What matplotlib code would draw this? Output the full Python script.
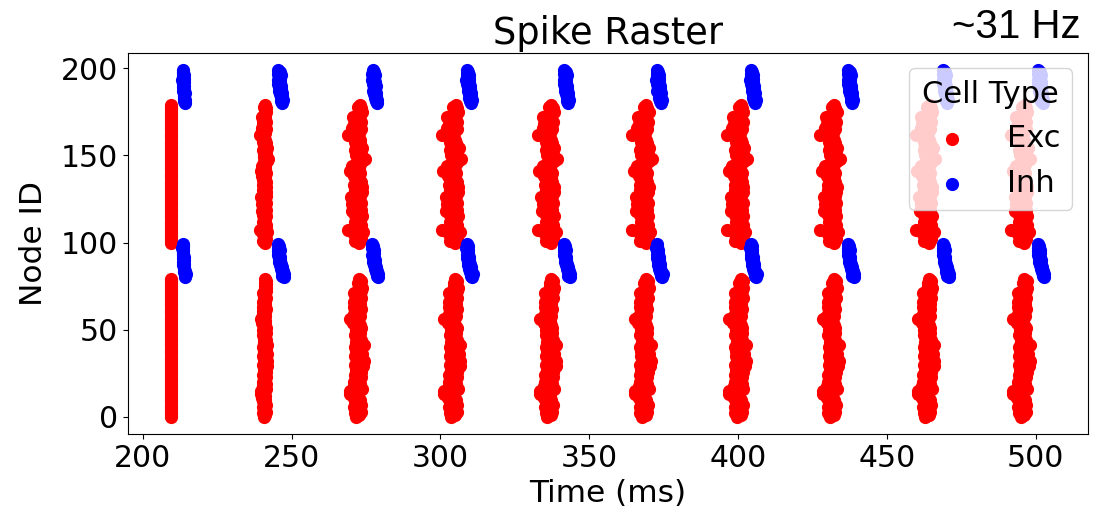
import numpy as np
import matplotlib
matplotlib.use("Agg")
import matplotlib.pyplot as plt

# burst centres (ms)
exc_burst_ms = [209.6, 240.8, 272.1, 304.1, 336.3, 368.1, 400.0, 431.3, 463.3, 495.3]
inh_burst_ms = [213.6, 245.9, 277.6, 309.3, 342.0, 373.1, 404.7, 437.4, 469.3, 501.3]
# how widely each burst is smeared out (0 = all cells fire together)
exc_spread = [0.0, 0.4, 0.85, 1.0, 1.0, 1.0, 1.0, 1.0, 1.0, 1.0]
inh_spread = [0.5, 1.0, 1.0, 1.0, 1.0, 1.0, 1.0, 1.0, 1.0, 1.0]

# per-cell lag (ms) relative to the burst centre
exc_lag_low = [  # nodes 0-79
    -0.4, 0.8, -1.0, 1.3, -0.2, 0.6, -1.2, 1.5, 0.1, -0.8,
    1.0, -1.5, 0.4, -2.9, -1.0, -2.9, 1.8, 0.2, -1.4, 1.2,
    -1.2, 0.6, -0.5, 1.4, -1.1, 0.3, 1.6, -0.6, 0.9, 2.4,
    -0.9, 0.5, 2.6, -0.3, 1.1, -0.8, 2.0, 0.2, -0.6, 1.5,
    -0.9, 2.6, 0.4, -0.4, 1.4, -0.2, 0.8, -1.0, 1.2, 0.0,
    -0.7, 1.3, -0.3, 0.9, -1.6, 0.4, -2.9, -2.0, 1.0, -1.2,
    0.6, -0.8, 1.3, -1.2, 0.2, 1.0, -1.2, 0.4, 1.5, -0.5,
    0.9, -1.2, 1.4, 0.3, 1.8, 0.6, 1.2, 0.4, 1.6, 0.8,
]
exc_lag_high = [  # nodes 100-179
    0.8, -0.9, 1.5, -0.4, 0.6, -1.2, 2.4, -3.7, 1.2, -0.6,
    1.6, 0.2, -0.8, 1.0, -0.2, 1.7, -1.0, 0.4, -2.3, 1.3,
    -0.5, 0.9, -2.0, 1.5, -1.2, 0.3, -2.4, 1.1, -0.3, 1.7,
    -1.0, 0.5, 1.8, -1.2, 0.2, 1.3, -0.7, 0.8, -1.5, 0.4,
    1.2, -3.1, -1.0, 0.6, -2.0, 1.0, -0.2, 1.9, 2.9, 0.1,
    -0.6, 1.5, 0.3, -0.9, 2.0, 0.6, -0.4, 1.2, -0.8, 0.9,
    0.2, -1.5, -3.7, 0.5, -0.9, 1.3, -2.0, 0.7, -1.4, 1.5,
    -0.7, 0.4, -1.8, 1.0, 0.3, 1.8, 0.6, 1.4, 0.2, 1.0,
]
inh_lag_low = [  # nodes 80-99
    1.4, 1.0, 1.5, 0.7, 1.1, 0.4, 0.8, 0.1, 0.5, -0.1,
    0.3, -0.3, 0.2, -0.5, 0.0, -0.4, 0.1, -0.6, -0.2, -0.5,
]
inh_lag_high = [  # nodes 180-199
    1.0, 0.6, 1.2, 0.4, 0.8, 0.2, 0.9, -0.2, 0.5, 0.0,
    0.6, -0.4, 0.3, -0.6, 0.2, -0.3, 0.4, -0.5, 0.1, -0.4,
]

exc_ids = np.concatenate([np.arange(0, 80), np.arange(100, 180)])
inh_ids = np.concatenate([np.arange(80, 100), np.arange(180, 200)])
exc_lag = np.array(exc_lag_low + exc_lag_high)
inh_lag = np.array(inh_lag_low + inh_lag_high)

exc_t, exc_n, inh_t, inh_n = [], [], [], []
for b in range(len(exc_burst_ms)):
    exc_t.append(exc_burst_ms[b] + exc_spread[b] * exc_lag)
    exc_n.append(exc_ids)
    inh_t.append(inh_burst_ms[b] + inh_spread[b] * inh_lag)
    inh_n.append(inh_ids)
exc_t, exc_n = np.concatenate(exc_t), np.concatenate(exc_n)
inh_t, inh_n = np.concatenate(inh_t), np.concatenate(inh_n)

plt.rcParams['font.size'] = 21.5

fig = plt.figure(figsize=(11.05, 5.16), dpi=100)
ax = fig.add_axes([0.1156, 0.1583, 0.8688, 0.7396])
ax.scatter(exc_t, exc_n, s=72, color="red", label="Exc")
ax.scatter(inh_t, inh_n, s=72, color="blue", label="Inh")
ax.set_title("Spike Raster", fontsize=26.5)
ax.set_xlabel("Time (ms)", fontsize=22.5)
ax.set_ylabel("Node ID", fontsize=22.5, labelpad=9)
ax.set_xticks([200, 250, 300, 350, 400, 450, 500])
ax.set_yticks([0, 50, 100, 150, 200])
ax.legend(title="Cell Type", loc="upper right", fontsize=22, title_fontsize=22)
fig.text(0.978, 0.926, "~31 Hz", ha="right", va="baseline",
         family="Liberation Sans", fontsize=29)

fig.savefig("out.png", dpi=100)
